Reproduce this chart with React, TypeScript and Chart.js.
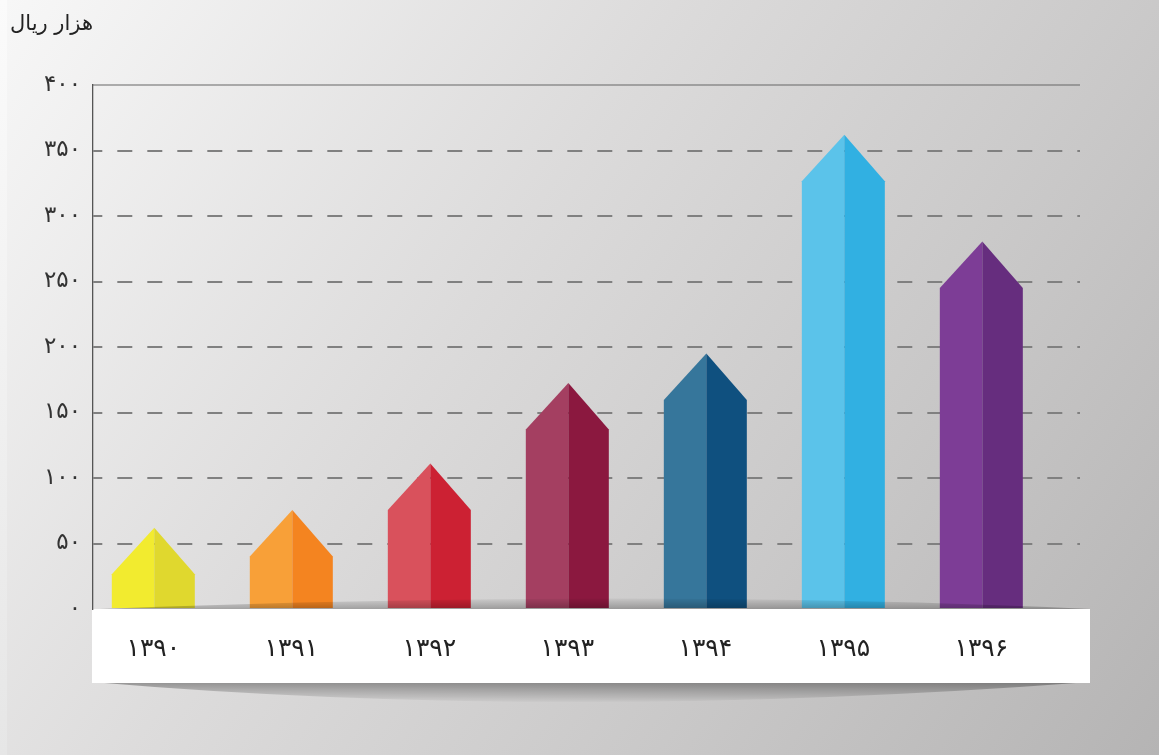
import React, { useEffect, useRef } from "react";
import { Chart, registerables } from "chart.js";

Chart.register(...registerables);

const years = ["۱۳۹۰", "۱۳۹۱", "۱۳۹۲", "۱۳۹۳", "۱۳۹۴", "۱۳۹۵", "۱۳۹۶"];
const values = [26.5, 40, 75.5, 137, 159.5, 326.5, 245];
const yTickValues = [0, 50, 100, 150, 200, 250, 300, 350, 400];
const yTickLabels = ["۰", "۵۰", "۱۰۰", "۱۵۰", "۲۰۰", "۲۵۰", "۳۰۰", "۳۵۰", "۴۰۰"];
const unitTitle = "هزار ریال";

const lightColors = ["#f2eb2f", "#f8a038", "#d9515c", "#a43f61", "#36769b", "#5bc3ea", "#7d3d96"];
const darkColors = ["#e0d82e", "#f48420", "#cc2133", "#8b183f", "#0f507f", "#31b0e2", "#662d7e"];

const FONT = "'DejaVu Sans', sans-serif";
const ARROW_H = 46.5;

const decorPlugin = {
  id: "decor",
  beforeDraw(chart: any) {
    const { ctx, chartArea } = chart;
    ctx.save();
    // under-band shadow
    const g2 = ctx.createLinearGradient(0, 683, 0, 703);
    g2.addColorStop(0, "rgba(0,0,0,0.32)");
    g2.addColorStop(1, "rgba(0,0,0,0)");
    ctx.fillStyle = g2;
    ctx.beginPath();
    ctx.moveTo(92, 682);
    ctx.quadraticCurveTo(560, 722, 1090, 682);
    ctx.closePath();
    ctx.fill();
    // white band
    ctx.fillStyle = "#ffffff";
    ctx.fillRect(92, chartArea.bottom, 998, 683 - chartArea.bottom);
    // title
    ctx.fillStyle = "#222";
    ctx.font = `21px ${FONT}`;
    ctx.textAlign = "right";
    ctx.textBaseline = "middle";
    ctx.fillText(unitTitle, 93, 25);
    ctx.restore();
  },
  afterDatasetsDraw(chart: any) {
    const { ctx, chartArea } = chart;
    const meta = chart.getDatasetMeta(0);
    ctx.save();
    meta.data.forEach((bar: any, i: number) => {
      const { x, y, base, width } = bar.getProps(["x", "y", "base", "width"], true);
      const l = x - width / 2;
      const r = x + width / 2;
      const tip = y - ARROW_H;
      ctx.fillStyle = lightColors[i];
      ctx.beginPath();
      ctx.moveTo(l, base);
      ctx.lineTo(l, y);
      ctx.lineTo(x + 1, tip);
      ctx.lineTo(x + 1, base);
      ctx.closePath();
      ctx.fill();
      ctx.fillStyle = darkColors[i];
      ctx.beginPath();
      ctx.moveTo(x + 1, base);
      ctx.lineTo(x + 1, tip);
      ctx.lineTo(r, y);
      ctx.lineTo(r, base);
      ctx.closePath();
      ctx.fill();
    });
    // floor shadow
    const g = ctx.createLinearGradient(0, 597, 0, chartArea.bottom);
    g.addColorStop(0, "rgba(0,0,0,0)");
    g.addColorStop(1, "rgba(0,0,0,0.26)");
    ctx.fillStyle = g;
    ctx.beginPath();
    ctx.moveTo(100, chartArea.bottom);
    ctx.quadraticCurveTo(640, 588, 1090, chartArea.bottom);
    ctx.closePath();
    ctx.fill();
    // top frame line
    ctx.strokeStyle = "#666";
    ctx.lineWidth = 1.2;
    ctx.beginPath();
    ctx.moveTo(chartArea.left, chartArea.top);
    ctx.lineTo(chartArea.right, chartArea.top);
    ctx.stroke();
    ctx.restore();
  },
};

export default function App() {
  const ref = useRef<HTMLCanvasElement>(null);
  useEffect(() => {
    if (!ref.current) return;
    const chart = new Chart(ref.current, {
      type: "bar",
      data: {
        datasets: [
          {
            data: values.map((v, i) => ({ x: i, y: v })),
            backgroundColor: "rgba(0,0,0,0)",
            borderWidth: 0,
            barThickness: 83,
          },
        ],
      },
      options: {
        animation: false,
        responsive: true,
        maintainAspectRatio: false,
        layout: { padding: { left: 0, right: 79, top: 85, bottom: 0 } },
        plugins: { legend: { display: false }, tooltip: { enabled: false } },
        scales: {
          x: {
            type: "linear",
            offset: false,
            min: -0.437,
            max: 6.715,
            afterBuildTicks: (axis: any) => {
              axis.ticks = years.map((_, i) => ({ value: i }));
            },
            afterFit: (axis: any) => {
              axis.height = 146;
            },
            grid: { display: false, drawTicks: false, offset: false },
            border: { display: false },
            ticks: {
              autoSkip: false,
              maxRotation: 0,
              padding: 25,
              color: "#222",
              font: { family: FONT, size: 25 },
              callback: (v: any) => years[v as number] ?? "",
            },
          },
          y: {
            min: 0,
            max: 400,
            afterBuildTicks: (axis: any) => {
              axis.ticks = yTickValues.map((v) => ({ value: v }));
            },
            afterFit: (axis: any) => {
              axis.width = 93;
            },
            grid: {
              drawTicks: false,
              lineWidth: 2,
              color: (c: any) =>
                c.tick && (c.tick.value === 0 || c.tick.value === 400) ? "rgba(0,0,0,0)" : "#808080",
            },
            border: { display: true, color: "#555", width: 1.3, dash: [15, 15], dashOffset: 6 },
            ticks: {
              padding: 12,
              color: "#333",
              font: { family: FONT, size: 23 },
              callback: (v: any) => yTickLabels[yTickValues.indexOf(v as number)] ?? "",
            },
          },
        },
      },
      plugins: [decorPlugin],
    });
    return () => chart.destroy();
  }, []);

  return (
    <div style={{ position: "fixed", left: 0, top: 0, width: 1159, height: 755, background: "linear-gradient(180deg, #fbfbfb 0%, #e6e6e6 100%)" }}>
      <div
        style={{
          position: "absolute",
          left: 7,
          top: 0,
          right: 0,
          bottom: 0,
          background: "linear-gradient(125deg, #f7f7f7 0%, #dcdbdb 40%, #c9c8c8 70%, #b5b4b4 100%)",
        }}
      />
      <div style={{ position: "absolute", left: 0, top: 0, width: 1159, height: 755 }}>
        <canvas ref={ref} />
      </div>
    </div>
  );
}
